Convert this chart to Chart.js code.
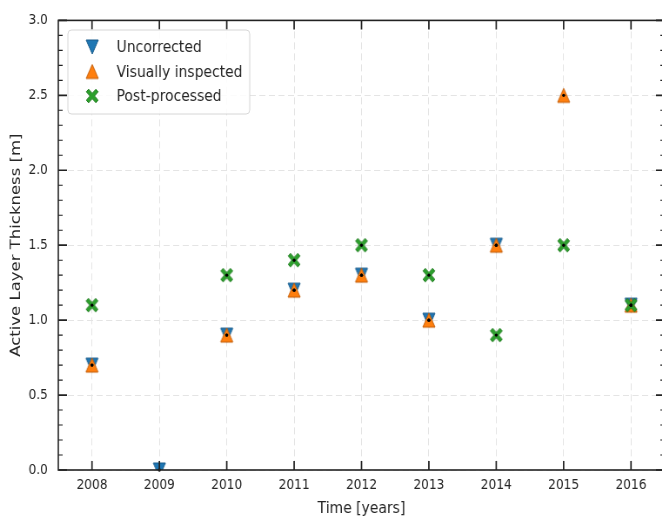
<!DOCTYPE html>
<html>
<head>
<meta charset="UTF-8" />
<title>Active layer thickness</title>
<script src="https://cdn.jsdelivr.net/npm/chart.js"></script>
<style>
  html, body { margin: 0; padding: 0; background: #fff; overflow: hidden; }
  /* the reference is squeezed horizontally, so draw wide and scale down */
  #wrap { position: relative; width: 770px; height: 518px; transform: scaleX(0.87); transform-origin: 0 0; }
</style>
</head>
<body>
<div id="wrap"><canvas id="chart" width="770" height="518"></canvas></div>
<script>
// --- data ---
const years = [2008, 2009, 2010, 2011, 2012, 2013, 2014, 2015, 2016];
const uncorrected = [0.7, 0.0, 0.9, 1.2, 1.3, 1.0, 1.5, null, 1.1];
const visuallyInspected = [0.7, null, 0.9, 1.2, 1.3, 1.0, 1.5, 2.5, 1.1];
const postProcessed = [1.1, null, 1.3, 1.4, 1.5, 1.3, 0.9, 1.5, 1.1];
const yTicks = [0.0, 0.5, 1.0, 1.5, 2.0, 2.5, 3.0];

const FONT = "'DejaVu Sans', sans-serif";
const TEXT = '#262626';

// marker images (matplotlib style: v, ^, X)
function marker(kind, fill, edge) {
  const s = 18, c = document.createElement('canvas');
  c.width = s; c.height = s;
  const g = c.getContext('2d');
  const r = 7, m = s / 2;
  g.beginPath();
  if (kind === 'down') {
    g.moveTo(m - r, m - r); g.lineTo(m + r, m - r); g.lineTo(m, m + r);
  } else if (kind === 'up') {
    g.moveTo(m - r, m + r); g.lineTo(m + r, m + r); g.lineTo(m, m - r);
  } else {
    // filled X
    const a = 2.6, b = 6.8;
    const pts = [[0, -a], [b - a, -b], [b, -(b - a)], [a, 0], [b, b - a], [b - a, b],
                 [0, a], [-(b - a), b], [-b, b - a], [-a, 0], [-b, -(b - a)], [-(b - a), -b]];
    pts.forEach((p, i) => i ? g.lineTo(m + p[0], m + p[1]) : g.moveTo(m + p[0], m + p[1]));
  }
  g.closePath();
  g.fillStyle = fill; g.fill();
  g.lineWidth = 1; g.strokeStyle = edge; g.stroke();
  return c;
}
const mkUnc = marker('down', '#1f77b4', '#1b5d8c');
const mkVis = marker('up', '#ff7f0e', '#c4600c');
const mkPost = marker('x', '#2ca02c', '#217a21');

const pts = arr => years.map((y, i) => ({ x: y, y: arr[i] }));

// inward ticks, frame, centre dots and legend
const decor = {
  id: 'decor',
  afterDatasetsDraw(chart) {
    const { ctx, chartArea: a, scales: { x, y } } = chart;
    ctx.save();
    // centre dots
    ctx.fillStyle = '#000';
    chart.data.datasets.forEach((ds, i) => {
      chart.getDatasetMeta(i).data.forEach((el, j) => {
        if (ds.data[j].y == null) return;
        ctx.beginPath(); ctx.arc(el.x, el.y, 1.7, 0, Math.PI * 2); ctx.fill();
      });
    });
    // frame
    ctx.strokeStyle = '#222'; ctx.lineWidth = 1.6;
    ctx.strokeRect(a.left, a.top, a.right - a.left, a.bottom - a.top);
    // major ticks
    ctx.lineWidth = 1.7;
    ctx.beginPath();
    years.forEach(v => {
      const px = x.getPixelForValue(v);
      ctx.moveTo(px, a.bottom); ctx.lineTo(px, a.bottom - 9);
      ctx.moveTo(px, a.top); ctx.lineTo(px, a.top + 9);
    });
    yTicks.forEach(v => {
      const py = y.getPixelForValue(v);
      ctx.moveTo(a.left, py); ctx.lineTo(a.left + 10, py);
      ctx.moveTo(a.right, py); ctx.lineTo(a.right - 10, py);
    });
    ctx.stroke();
    // minor y ticks
    ctx.lineWidth = 1.1;
    ctx.beginPath();
    for (let k = 1; k < 30; k++) {
      if (k % 5 === 0) continue;
      const py = y.getPixelForValue(k / 10);
      ctx.moveTo(a.left, py); ctx.lineTo(a.left + 5, py);
      ctx.moveTo(a.right, py); ctx.lineTo(a.right - 5, py);
    }
    ctx.stroke();

    // legend
    const lx = 78, ly = 30, lw = 209, lh = 84;
    ctx.beginPath();
    ctx.roundRect(lx, ly, lw, lh, 4);
    ctx.fillStyle = 'rgba(255,255,255,0.85)'; ctx.fill();
    ctx.strokeStyle = '#d6d6d6'; ctx.lineWidth = 1; ctx.stroke();
    const items = [[mkUnc, 'Uncorrected'], [mkVis, 'Visually inspected'], [mkPost, 'Post-processed']];
    ctx.font = '16px ' + FONT; ctx.fillStyle = TEXT; ctx.textBaseline = 'middle';
    items.forEach((it, i) => {
      const cy = ly + 17 + i * 24.5;
      ctx.drawImage(it[0], 106 - 9, cy - 9);
      ctx.fillText(it[1], 134, cy + 1);
    });
    ctx.restore();
  }
};

new Chart(document.getElementById('chart'), {
  type: 'scatter',
  data: {
    datasets: [
      { label: 'Uncorrected', data: pts(uncorrected), pointStyle: mkUnc, order: 2 },
      { label: 'Visually inspected', data: pts(visuallyInspected), pointStyle: mkVis, order: 1 },
      { label: 'Post-processed', data: pts(postProcessed), pointStyle: mkPost, order: 0 }
    ]
  },
  options: {
    responsive: false,
    animation: false,
    layout: { padding: { top: 18, right: 6, left: 0, bottom: 0 } },
    plugins: { legend: { display: false }, tooltip: { enabled: false } },
    scales: {
      x: {
        type: 'linear', min: 2007.5, max: 2016.5,
        afterBuildTicks: s => { s.ticks = years.map(v => ({ value: v })); },
        afterFit: s => { s.height = 48; },
        grid: { color: '#e4e4e4', lineWidth: 1, drawTicks: false, tickLength: 0 },
        border: { display: false, dash: [7, 4] },
        ticks: { color: TEXT, font: { family: FONT, size: 14 }, padding: 7,
                 callback: v => String(v) },
        title: { display: true, text: 'Time [years]', color: TEXT,
                 font: { family: FONT, size: 16 }, padding: { top: 1, bottom: 0 } }
      },
      y: {
        min: 0, max: 3,
        afterBuildTicks: s => { s.ticks = yTicks.map(v => ({ value: v })); },
        afterFit: s => { s.width = 67; },
        grid: { color: '#e4e4e4', lineWidth: 1, drawTicks: false, tickLength: 0 },
        border: { display: false, dash: [7, 4] },
        ticks: { color: TEXT, font: { family: FONT, size: 14 }, padding: 12,
                 callback: v => v.toFixed(1) },
        title: { display: true, text: 'Active Layer Thickness [m]', color: TEXT,
                 font: { family: FONT, size: 16.5 }, padding: { top: 9, bottom: 0 } }
      }
    }
  },
  plugins: [decor]
});
</script>
</body>
</html>
